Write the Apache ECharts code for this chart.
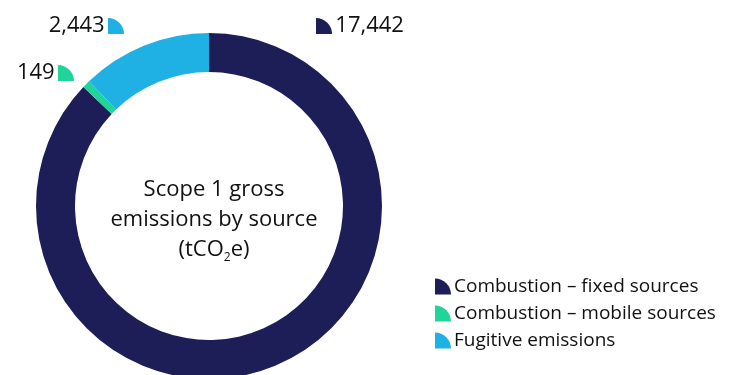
<!DOCTYPE html>
<html><head><meta charset="utf-8">
<script src="https://cdn.jsdelivr.net/npm/echarts@6/dist/echarts.min.js"></script>
<style>html,body{margin:0;padding:0;background:#fff}#c{width:745px;height:375px}</style>
</head><body><div id="c"></div>
<script>
const categories = ['Combustion – fixed sources', 'Combustion – mobile sources', 'Fugitive emissions'];
const values = [17442, 149, 2443];
const colors = ['#1d1d57', '#20d49a', '#1fb0e4'];
const centerLines = ['Scope 1 gross', 'emissions by source'];

const FONT = 'Open Sans';
const quarter = 'path://M0,0 A10,10 0 0 1 10,10 L0,10 Z';
const labelPos = [
  {x: 316, y: 25, align: 'left'},
  {x: 74, y: 72, align: 'right'},
  {x: 124, y: 25, align: 'right'}
];
const chart = echarts.init(document.getElementById('c'), null, {renderer: 'canvas'});
chart.setOption({
  animation: false,
  color: colors,
  title: {
    text: '{t|' + centerLines[0] + '}\n{t|' + centerLines[1] + '}\n{t|(tCO}{s|2}{t|e)}',
    left: 209, top: 170, textAlign: 'center',
    textStyle: {
      fontWeight: 'normal',
      rich: {
        t: {fontFamily: FONT, fontSize: 22, fontWeight: 'normal', color: '#111', lineHeight: 30, align: 'center'},
        s: {fontFamily: FONT, fontSize: 12, fontWeight: 'normal', color: '#111', lineHeight: 30, padding: [16, 0, 0, 0]}
      }
    }
  },
  legend: {
    orient: 'vertical', left: 430, top: 272, itemGap: 8,
    itemWidth: 16, itemHeight: 16, icon: quarter,
    textStyle: {fontFamily: FONT, fontSize: 19, color: '#111', padding: [0, 0, 0, -2]},
    data: categories
  },
  series: [{
    type: 'pie', center: [209, 206], radius: [134, 173],
    startAngle: 90, clockwise: true, avoidLabelOverlap: false,
    labelLine: {show: false},
    label: {
      show: true, position: 'outside',
      formatter: p => p.dataIndex === 0
        ? '{i' + p.dataIndex + '| } {v|' + p.value.toLocaleString('en-US') + '}'
        : '{v|' + p.value.toLocaleString('en-US') + '} {i' + p.dataIndex + '| }',
      rich: {
        v: {fontFamily: FONT, fontSize: 22, color: '#111'},
        i0: {width: 16, height: 16, backgroundColor: colors[0], borderRadius: [0, 16, 0, 0]},
        i1: {width: 16, height: 16, backgroundColor: colors[1], borderRadius: [0, 16, 0, 0]},
        i2: {width: 16, height: 16, backgroundColor: colors[2], borderRadius: [0, 16, 0, 0]}
      }
    },
    labelLayout: p => ({x: labelPos[p.dataIndex].x, y: labelPos[p.dataIndex].y + 1, align: labelPos[p.dataIndex].align, verticalAlign: 'middle'}),
    data: categories.map((n, i) => ({name: n, value: values[i]}))
  }]
});
</script></body></html>
